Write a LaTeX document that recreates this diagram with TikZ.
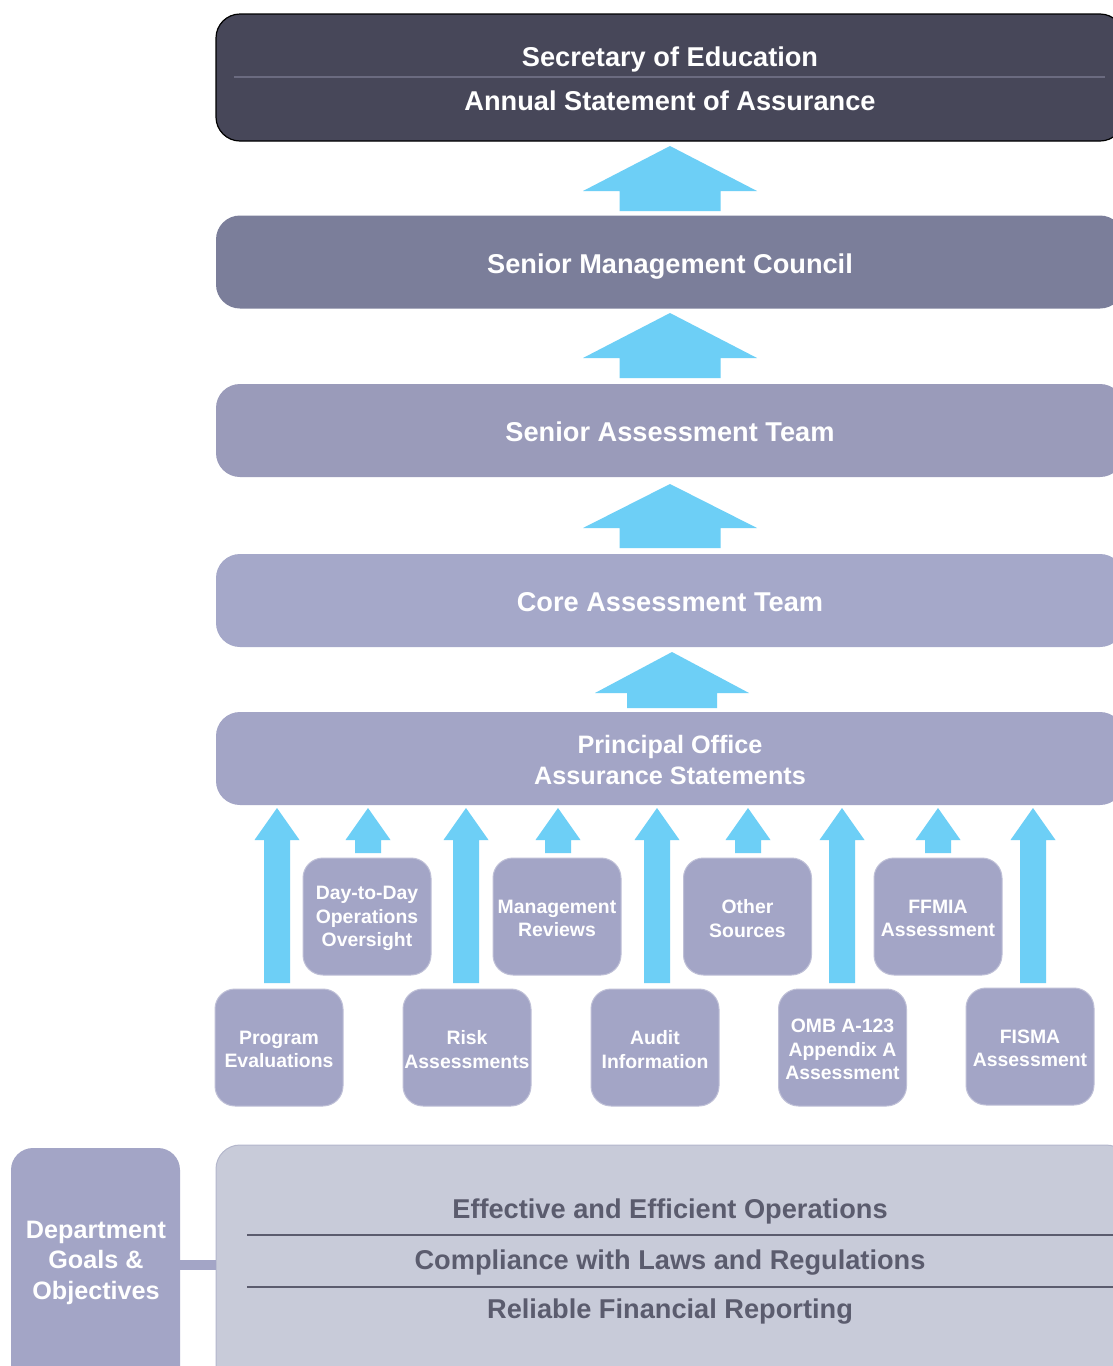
\documentclass[tikz,border=0pt]{standalone}
\usepackage{fontspec}
\setmainfont{Liberation Sans}
\usetikzlibrary{calc}
\definecolor{secc}{HTML}{474759}
\definecolor{secl}{HTML}{6B6B80}
\definecolor{smcc}{HTML}{7B7E9A}
\definecolor{satc}{HTML}{9A9BBA}
\definecolor{catc}{HTML}{A5A8C9}
\definecolor{poc}{HTML}{A3A5C6}
\definecolor{arrc}{HTML}{6DCFF6}
\definecolor{objc}{HTML}{C8CBD9}
\definecolor{objb}{HTML}{B4B7CC}
\definecolor{objt}{HTML}{5B5C6E}
\newcommand{\uparr}[6]{\fill[arrc] (#1,#2) -- ({#1+#5},#3) -- ({#1+#6},#3) -- ({#1+#6},#4) -- ({#1-#6},#4) -- ({#1-#6},#3) -- ({#1-#5},#3) -- cycle;}
\tikzset{
  bigbox/.style={rectangle, rounded corners=24pt, minimum width=908pt, minimum height=93pt, inner sep=0pt},
  bigtext/.style={text=white, font=\fontsize{27.2}{31}\selectfont\bfseries, inner sep=0pt, anchor=base},
  smallbox/.style={rectangle, rounded corners=20pt, fill=poc, draw=poc!70!white, line width=1pt, minimum width=128pt, minimum height=117pt, inner sep=0pt},
  smalltext/.style={align=center, text=white, font=\fontsize{19.4}{23.5}\selectfont\bfseries, inner sep=0pt, yshift=-2pt},
  objtext/.style={text=objt, font=\fontsize{27.2}{31}\selectfont\bfseries, inner sep=0pt, anchor=base}
}
\begin{document}
\begin{tikzpicture}[x=1pt,y=-1pt]
\useasboundingbox (0,0) rectangle (1113,1366);
\clip (0,0) rectangle (1113,1366);
\fill[white] (0,0) rectangle (1113,1366);
% top box
\node[bigbox, fill=secc, draw=black, line width=1.2pt, minimum height=127pt] (sec) at (670,77.5) {};
\draw[secl, line width=1.5pt] (234,77) -- (1105,77);
\node[bigtext] (sect) at (670,66) {Secretary of Education};
\node[bigtext] (asa) at (670,110) {Annual Statement of Assurance};
% level boxes
\node[bigbox, fill=smcc] (smc) at (670,262) {};
\node[bigtext] (smct) at (670,273) {Senior Management Council};
\node[bigbox, fill=satc] (sat) at (670,430.5) {};
\node[bigtext] (satt) at (670,441) {Senior Assessment Team};
\node[bigbox, fill=catc] (cat) at (670,600.5) {};
\node[bigtext] (catt) at (670,611) {Core Assessment Team};
\node[bigbox, fill=poc] (po) at (670,758.5) {};
\node[text=white, inner sep=0pt, align=center, font=\fontsize{25.2}{31}\selectfont\bfseries] (pot) at (670,759.5) {Principal Office\\Assurance Statements};
% big arrows
\uparr{670}{146}{191}{211}{87}{50.5}
\uparr{670}{313}{358}{378}{87}{50.5}
\uparr{670}{484}{528}{548}{87}{50.5}
\uparr{672}{652}{693}{708}{77}{45}
% small arrows long and short
\foreach \cx in {277,466,657,842,1033}{\uparr{\cx}{808}{840}{983}{22.5}{13}}
\foreach \cx in {368,558,748,938}{\uparr{\cx}{808}{840}{853}{22.5}{13}}
% small boxes upper
\node[smallbox] (dtd) at (367,916.5) {};
\node[smalltext] at (dtd.center) {Day-to-Day\\Operations\\Oversight};
\node[smallbox] (mr) at (557,916.5) {};
\node[smalltext] at (mr.center) {Management\\Reviews};
\node[smallbox] (os) at (747.5,916.5) {};
\node[smalltext] at (os.center) {Other\\Sources};
\node[smallbox] (ff) at (938,916.5) {};
\node[smalltext] at (ff.center) {FFMIA\\Assessment};
% lower
\node[smallbox] (pe) at (279,1047.5) {};
\node[smalltext] at (pe.center) {Program\\Evaluations};
\node[smallbox] (ra) at (467,1047.5) {};
\node[smalltext] at (ra.center) {Risk\\Assessments};
\node[smallbox] (ai) at (655,1047.5) {};
\node[smalltext] at (ai.center) {Audit\\Information};
\node[smallbox] (omb) at (842.5,1047.5) {};
\node[smalltext] at (omb.center) {OMB A-123\\Appendix A\\Assessment};
\node[smallbox] (fi) at (1030,1046.5) {};
\node[smalltext] at (fi.center) {FISMA\\Assessment};
% bottom
\node[rectangle, rounded corners=22pt, fill=poc, minimum width=169pt, minimum height=240pt, inner sep=0pt] (dept) at (95.5,1268) {};
\node[rectangle, rounded corners=24pt, fill=objc, draw=objb, line width=1pt, minimum width=914pt, minimum height=250pt, inner sep=0pt] (obj) at (673,1270) {};
\draw[poc, line width=10pt] (dept.east |- 0,1265) -- (obj.west |- 0,1265);
\node[text=white, font=\fontsize{25.2}{30.5}\selectfont\bfseries, align=center, inner sep=0pt] (deptt) at (96,1262.5) {Department\\Goals \&\\Objectives};
\draw[objt, line width=2pt] (247,1235) -- (1130,1235);
\draw[objt, line width=2pt] (247,1287) -- (1130,1287);
\node[objtext] (o1) at (670,1218) {Effective and Efficient Operations};
\node[objtext] (o2) at (670,1269) {Compliance with Laws and Regulations};
\node[objtext] (o3) at (670,1318) {Reliable Financial Reporting};
\end{tikzpicture}
\end{document}
